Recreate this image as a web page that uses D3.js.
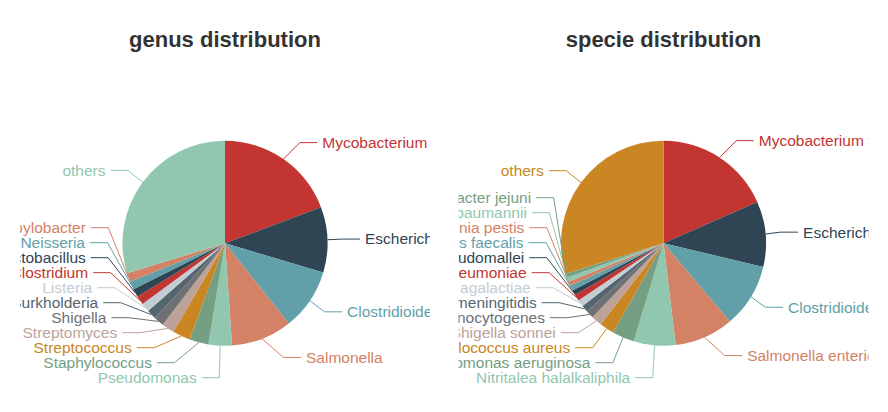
<!DOCTYPE html>
<html>
<head>
<meta charset="utf-8">
<script src="https://cdn.jsdelivr.net/npm/d3@7"></script>
<style>
  body { margin: 0; background: #fff; }
  svg { display: block; }
</style>
</head>
<body>
<svg id="chart"></svg>
<script>
// data (counts out of ~1000)
const genusNames = ['Mycobacterium', 'Escherichia', 'Clostridioides', 'Salmonella', 'Pseudomonas',
  'Staphylococcus', 'Streptococcus', 'Streptomyces', 'Shigella', 'Burkholderia', 'Listeria',
  'Clostridium', 'Lactobacillus', 'Neisseria', 'Campylobacter', 'others'];
const genusValues = [193, 103, 97, 96, 37, 30, 28, 20, 16, 15, 14, 14, 13, 13, 14, 297];

const specieNames = ['Mycobacterium tuberculosis', 'Escherichia coli', 'Clostridioides difficile',
  'Salmonella enterica', 'Nitritalea halalkaliphila', 'Pseudomonas aeruginosa', 'Staphylococcus aureus',
  'Shigella sonnei', 'Listeria monocytogenes', 'Neisseria meningitidis', 'Streptococcus agalactiae',
  'Klebsiella pneumoniae', 'Burkholderia pseudomallei', 'Enterococcus faecalis', 'Yersinia pestis',
  'Acinetobacter baumannii', 'Campylobacter jejuni', 'others'];
const specieValues = [184, 103, 101, 93, 66, 35, 23, 17, 12, 11, 11, 10, 8, 8, 7, 7, 6, 298];

const chartTitles = ['genus distribution', 'specie distribution'];

const palette = ['#c23531', '#2f4554', '#61a0a8', '#d48265', '#91c7ae', '#749f83',
  '#ca8622', '#bda29a', '#6e7074', '#546570', '#c4ccd3'];

const W = 888, H = 412;
const panelW = 410, cy = 243.3, radius = 102.5;
const len1 = 20, len2 = 17.5, gap = 5, labelH = 15;
// labels may be pushed down freely, but the stack is then pulled back above this line
const viewTop = 0, pushLimit = 480, viewBottom = 392.7;

const svg = d3.select('#chart').attr('width', W).attr('height', H);

const panels = [
  { title: chartTitles[0], names: genusNames, values: genusValues, left: 20 },
  { title: chartTitles[1], names: specieNames, values: specieValues, left: 458.5 }
];

// label placement, same idea as echarts' pie label layout
function adjustSide(list, cx, dir) {
  list.sort((a, b) => a.y - b.y);
  const n = list.length;
  if (!n) return;

  function shiftUp(end, delta) {
    for (let j = end; j >= 0; j--) {
      if (list[j].y - delta < viewTop) break;
      list[j].y -= delta;
      if (j > 0 && list[j].y > list[j - 1].y + labelH) break;
    }
  }
  function shiftDown(start, end, delta) {
    for (let j = start; j < end; j++) {
      if (list[j].y + delta > pushLimit) break;
      list[j].y += delta;
      if (j > start && j + 1 < end && list[j + 1].y > list[j].y + labelH) {
        shiftUp(j, delta / 2);
        return;
      }
    }
    shiftUp(end - 1, delta / 2);
  }

  let lastY = 0;
  for (let i = 0; i < n; i++) {
    const delta = list[i].y - lastY;
    if (delta < 0) shiftDown(i, n, -delta);
    lastY = list[i].y + labelH;
  }
  if (viewBottom - lastY < 0) shiftUp(n - 1, lastY - viewBottom);

  function changeX(sub, isDown) {
    let lastDX = isDown ? Number.MAX_VALUE : 0;
    sub.forEach(o => {
      const dy = Math.abs(o.y - cy);
      const R = radius + len1 + len2;
      let dX = dy < radius + len1 ? Math.sqrt(R * R - dy * dy) : Math.abs(o.x - cx);
      if (isDown && dX >= lastDX) dX = lastDX - 10;
      if (!isDown && dX <= lastDX) dX = lastDX + 10;
      o.x = cx + dX * dir;
      lastDX = dX;
    });
  }
  changeX(list.filter(o => o.y < cy), false);
  changeX(list.filter(o => o.y >= cy), true);
}

function layoutLabels(arcs, cx) {
  const items = arcs.map((d, i) => {
    const mid = (d.startAngle + d.endAngle) / 2;
    const dx = Math.sin(mid), dy = -Math.cos(mid);
    const sgn = dx < 0 ? -1 : 1;
    const x2 = cx + (radius + len1) * dx, y2 = cy + (radius + len1) * dy;
    const x3 = x2 + sgn * len2;
    return {
      i: i,
      x: x3 + sgn * gap,
      y: y2,
      pts: [[cx + radius * dx, cy + radius * dy], [x2, y2], [x3, y2]]
    };
  });
  adjustSide(items.filter(o => o.x >= cx), cx, 1);
  adjustSide(items.filter(o => o.x < cx), cx, -1);
  items.forEach(o => {
    const dist = o.pts[1][0] - o.pts[2][0];
    o.left = o.x < cx;
    o.pts[2][0] = o.left ? o.x + gap : o.x - gap;
    o.pts[1][0] = o.pts[2][0] + dist;
    o.pts[1][1] = o.pts[2][1] = o.y;
  });
  return items.sort((a, b) => a.i - b.i);
}

const pie = d3.pie().sort(null).value(d => d);
const arc = d3.arc().innerRadius(0).outerRadius(radius);

panels.forEach((p, k) => {
  const cx = p.left + panelW / 2;
  const color = i => palette[i % palette.length];

  svg.append('clipPath').attr('id', 'clip' + k)
    .append('rect')
    .attr('x', p.left).attr('y', 0)
    .attr('width', panelW).attr('height', H);

  const g = svg.append('g').attr('clip-path', 'url(#clip' + k + ')');

  g.append('text')
    .attr('x', cx).attr('y', 47)
    .attr('text-anchor', 'middle')
    .attr('font-family', '"Liberation Sans", Arial, sans-serif')
    .attr('font-size', 22)
    .attr('font-weight', 'bold')
    .attr('fill', '#333')
    .text(p.title);

  const arcs = pie(p.values);

  g.append('g')
    .attr('transform', 'translate(' + cx + ',' + cy + ')')
    .selectAll('path')
    .data(arcs)
    .join('path')
    .attr('d', arc)
    .attr('fill', (d, i) => color(i));

  const labels = layoutLabels(arcs, cx);

  g.selectAll('polyline.lab')
    .data(labels)
    .join('polyline')
    .attr('class', 'lab')
    .attr('points', d => d.pts.map(q => q.join(',')).join(' '))
    .attr('fill', 'none')
    .attr('stroke', d => color(d.i))
    .attr('stroke-width', 1);

  g.selectAll('text.lab')
    .data(labels)
    .join('text')
    .attr('class', 'lab')
    .attr('x', d => d.x)
    .attr('y', d => d.y)
    .attr('dy', '0.35em')
    .attr('text-anchor', d => d.left ? 'end' : 'start')
    .attr('font-family', '"Liberation Sans", Arial, sans-serif')
    .attr('font-size', 15.5)
    .attr('fill', d => color(d.i))
    .text(d => p.names[d.i]);
});
</script>
</body>
</html>
